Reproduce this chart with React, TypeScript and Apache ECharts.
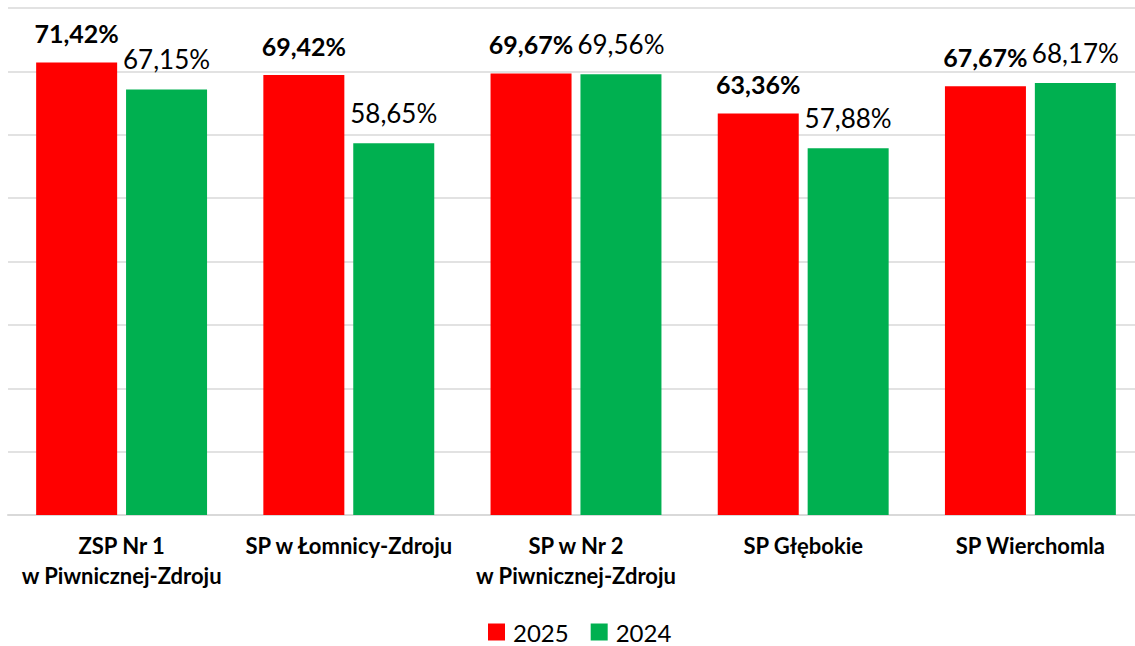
import React, { useEffect, useRef } from "react";
import * as echarts from "echarts";

const categories = [
  "ZSP Nr 1\nw Piwnicznej-Zdroju",
  "SP w Łomnicy-Zdroju",
  "SP w Nr 2\nw Piwnicznej-Zdroju",
  "SP Głębokie",
  "SP Wierchomla",
];
const values2025 = [71.42, 69.42, 69.67, 63.36, 67.67];
const values2024 = [67.15, 58.65, 69.56, 57.88, 68.17];
const seriesNames = ["2025", "2024"];

const fmt = (v: number) => v.toFixed(2).replace(".", ",") + "%";

export default function App() {
  const ref = useRef<HTMLDivElement>(null);
  useEffect(() => {
    if (!ref.current) return;
    const chart = echarts.init(ref.current, undefined, { renderer: "svg" });
    chart.setOption({
      animation: false,
      textStyle: { fontFamily: "Lato" },
      grid: { left: 8, top: 8, width: 1136, height: 507 },
      legend: {
        top: 620,
        left: 488,
        padding: 0,
        itemWidth: 17,
        itemHeight: 17,
        itemGap: 22,
        icon: "rect",
        textStyle: {
          fontSize: 24,
          lineHeight: 24,
          color: "#000",
          fontFamily: "Lato",
          padding: [0, 0, 0, 3],
        },
        data: seriesNames,
      },
      xAxis: {
        type: "category",
        data: categories,
        axisLine: { lineStyle: { color: "#d9d9d9", width: 2 } },
        axisTick: { show: false },
        axisLabel: {
          interval: 0,
          fontSize: 22,
          fontWeight: "bold",
          color: "#000",
          lineHeight: 30,
          margin: 15,
          fontFamily: "Lato",
        },
      },
      yAxis: {
        type: "value",
        min: 0,
        max: 80,
        interval: 10,
        axisLabel: { show: false },
        axisLine: { show: false },
        axisTick: { show: false },
        splitLine: { lineStyle: { color: "#d9d9d9", width: 1.5 } },
      },
      series: [
        {
          name: seriesNames[0],
          type: "bar",
          data: values2025,
          barWidth: 81,
          barGap: "11%",
          itemStyle: { color: "#FF0000" },
          label: {
            show: true,
            position: "top",
            distance: 17,
            formatter: (p: any) => fmt(p.value),
            fontSize: 25,
            fontWeight: "bold",
            color: "#000",
            fontFamily: "Lato",
          },
        },
        {
          name: seriesNames[1],
          type: "bar",
          data: values2024,
          barWidth: 81,
          barGap: "11%",
          itemStyle: { color: "#00B050" },
          label: {
            show: true,
            position: "top",
            distance: 17,
            formatter: (p: any) => fmt(p.value),
            fontSize: 26,
            color: "#000",
            fontFamily: "Lato",
          },
        },
      ],
    });
    return () => chart.dispose();
  }, []);
  return (
    <div
      ref={ref}
      style={{ position: "fixed", left: 0, top: 0, width: 1145, height: 646, background: "#fff" }}
    />
  );
}
